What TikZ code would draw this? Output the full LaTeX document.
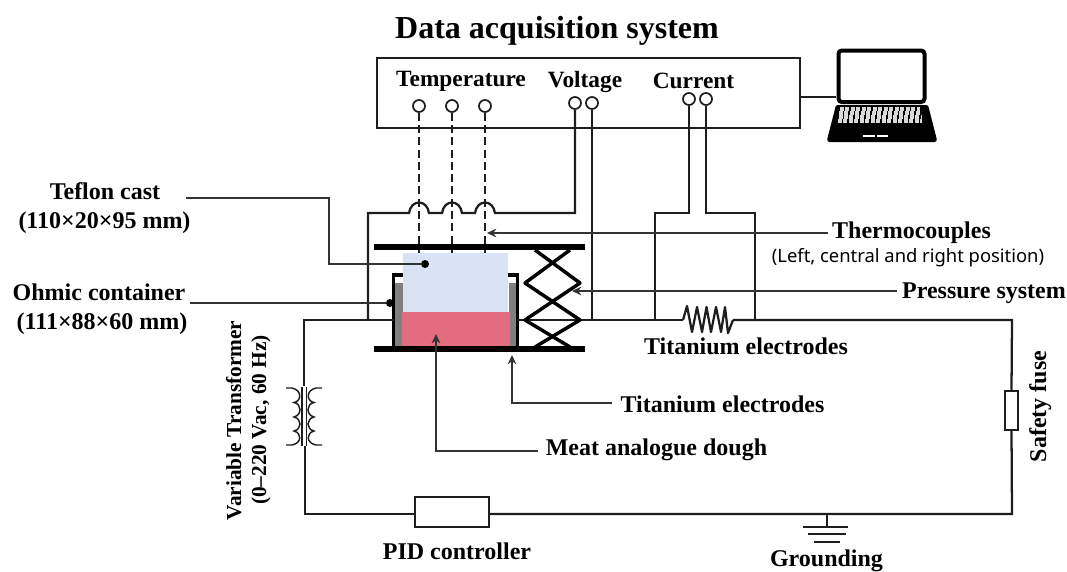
\documentclass[tikz,border=0pt]{standalone}
\usepackage{fontspec}
\setmainfont{Liberation Serif}
\newfontfamily\smallsans{Noto Sans}
\usetikzlibrary{arrows.meta}
\definecolor{ink}{HTML}{1E1E1E}
\definecolor{lead}{HTML}{333333}
\definecolor{blueblock}{HTML}{DAE3F3}
\definecolor{redblock}{HTML}{E46C7F}
\definecolor{wallgrey}{HTML}{7F7F7F}
\tikzset{
 wire/.style={draw=ink,line width=1.7pt},
 leader/.style={draw=lead,line width=1pt},
 leadarrow/.style={leader,-{Stealth[length=7pt,width=6.5pt]}},
 terminal/.style={circle,draw=ink,line width=1.3pt,fill=white,minimum size=9pt,inner sep=0pt},
 dotend/.style={circle,fill=black,minimum size=6pt,inner sep=0pt},
 plate/.style={draw=black,line width=4.8pt},
 lab/.style={font=\bfseries\fontsize{18}{21}\selectfont,text=black,inner sep=0pt,align=center,anchor=base},
 hdr/.style={font=\bfseries\fontsize{17.5}{20}\selectfont,text=black,inner sep=0pt,anchor=base},
 hollowbox/.style={draw=ink,line width=1.7pt,fill=white,inner sep=0pt},
 dash wire/.style={draw=ink,line width=1.4pt,dash pattern=on 6pt off 3.2pt},
}
\begin{document}
\begin{tikzpicture}[x=0.75pt,y=-0.75pt]
\useasboundingbox (0,0) rectangle (1067,571);
% title and DAQ box
\node[lab,font=\bfseries\fontsize{24}{28}\selectfont] (title) at (557,38) {Data acquisition system};
\node[hollowbox,minimum width=423*0.75pt,minimum height=70*0.75pt] (daq) at (588.5,93) {};
\node[hdr] (ttemp) at (461,86) {Temperature};
\node[hdr] (tvolt) at (585,87) {Voltage};
\node[hdr] (tcurr) at (693.5,88) {Current};
% terminals
\node[terminal] (t1) at (419,106) {};
\node[terminal] (t2) at (452,106) {};
\node[terminal] (t3) at (485,106) {};
\node[terminal] (v1) at (575,103) {};
\node[terminal] (v2) at (592,103) {};
\node[terminal] (c1) at (689,99) {};
\node[terminal] (c2) at (706,99) {};
% sample
\fill[wallgrey] (395,283) rectangle (403,347);
\fill[wallgrey] (509,283) rectangle (517,347);
\fill[blueblock] (403,253) rectangle (508,312);
\fill[redblock] (402,312) rectangle (510,347);
\draw[draw=black,line width=2.6pt] (403,275) -- (393.5,275) -- (393.5,349);
\draw[draw=black,line width=2.6pt] (508,275) -- (517.5,275) -- (517.5,349);
\coordinate (contL) at (393.5,320);
\coordinate (contR) at (517.5,320);
% main circuit
\coordinate (cornerTL) at (304,320);
\coordinate (xfTop) at (304,386);
\coordinate (xfBot) at (305,446);
\coordinate (cornerBL) at (305,514);
\coordinate (cornerTR) at (1012,320);
\coordinate (cornerBR) at (1012,514);
\coordinate (gnd) at (827,514);
\coordinate (resL) at (683,320);
\coordinate (resR) at (733,320);
\node[hollowbox,minimum width=74*0.75pt,minimum height=30*0.75pt] (pid) at (452,512) {};
\node[hollowbox,minimum width=13*0.75pt,minimum height=39*0.75pt] (fuse) at (1011.5,410.5) {};
\draw[wire] (contL) -- (cornerTL) -- (xfTop);
\draw[wire] (xfBot) -- (cornerBL) -- (pid.west |- cornerBL);
\draw[wire] (pid.east |- cornerBL) -- (cornerBR) -- (fuse.south);
\draw[wire] (fuse.north) -- (cornerTR) -- (resR);
\draw[wire] (contR) -- (resL);
\draw[wire,line join=round] (resL) -- (687,306) -- (692,332) -- (697,307) -- (702,332) -- (706.5,307) -- (711,332) -- (716,307) -- (721,332) -- (725,307) -- (728,333) -- (resR);
% transformer
\draw[wire,line width=1.1pt] (302,387) -- (302,446) (306.5,387) -- (306.5,446);
\draw[wire,line width=1.1pt] (286,388) -- (292,388) .. controls (302,390) and (302,401) .. (294,402.5) .. controls (302,404) and (302,415) .. (294,417) .. controls (302,419) and (302,429) .. (294,431) .. controls (302,433) and (302,443) .. (292,445) -- (286,445);
\draw[wire,line width=1.1pt] (322,388) -- (316,388) .. controls (306,390) and (306,401) .. (314,402.5) .. controls (306,404) and (306,415) .. (314,417) .. controls (306,419) and (306,429) .. (314,431) .. controls (306,433) and (306,443) .. (316,445) -- (322,445);
% ground
\draw[wire] (gnd) -- (827,527);
\draw[wire] (803,527) -- (848,527) (808,534) -- (846,534) (814,542) -- (840,542);
% DAQ wires
\coordinate (vA) at (575,213);
\coordinate (vB) at (368,213);
\coordinate (vC) at (368,320);
\draw[wire] (v1.south) -- (vA) -- (495,213) .. controls (493,199) and (477,199) .. (475,213) -- (462,213) .. controls (460,199) and (444,199) .. (442,213) -- (429,213) .. controls (427,199) and (411,199) .. (409,213) -- (vB) -- (vC);
\coordinate (vD) at (592,320);
\draw[wire] (v2.south) -- (vD);
\coordinate (cA) at (689,213);
\coordinate (cB) at (655,213);
\coordinate (cC) at (655,320);
\coordinate (cD) at (706,213);
\coordinate (cE) at (755,213);
\coordinate (cF) at (755,320);
\draw[wire] (c1.south) -- (cA) -- (cB) -- (cC);
\draw[wire] (c2.south) -- (cD) -- (cE) -- (cF);
\coordinate (t1e) at (419,253);
\coordinate (t2e) at (452,253);
\coordinate (t3e) at (485,253);
\draw[dash wire] (t1.south) -- (t1e);
\draw[dash wire] (t2.south) -- (t2e);
\draw[dash wire] (t3.south) -- (t3e);
% press
\coordinate (pTL) at (374,247);
\coordinate (pTR) at (585,247);
\coordinate (pBL) at (374,349);
\coordinate (pBR) at (585,349);
\draw[draw=black,line width=2.6pt,line join=round] (535,250) -- (580,283) -- (525,320) -- (570,347);
\draw[draw=black,line width=2.6pt,line join=round] (570,250) -- (525,283) -- (580,320) -- (535,347);
\draw[plate] (pTL) -- (pTR);
\draw[plate] (pBL) -- (pBR);
% laptop
\coordinate (lapIn) at (836,97);
\draw[wire] (daq.east |- lapIn) -- (lapIn);
\draw[draw=black,line width=3pt,rounded corners=2.5pt,fill=white] (838.5,50.5) rectangle (924.5,102);
\fill[black,rounded corners=1pt] (836,105) -- (928,105) -- (937,140) -- (936,142) -- (828,142) -- (827,140) -- cycle;
\foreach \r/\yy/\xa/\xb in {0/109/840/920,1/113/839/921,2/117/838.5/921.5,3/121/838/922}{
  \draw[draw=white!85!black,line width=2.6pt,dash pattern=on 3pt off 1.1pt] (\xa,\yy) -- (\xb,\yy);
}
\draw[draw=white,line width=1.6pt] (863,136) -- (875,136) (877,136) -- (888,136);
% leaders
\node[dotend] (dotT) at (425,264) {};
\node[dotend] (dotO) at (390,303) {};
\node[lab] (teflon) at (105,199) {Teflon cast};
\node[lab] (teflondim) at (104.5,228) {(110×20×95 mm)};
\node[lab] (ohmic) at (99,300) {Ohmic container};
\node[lab] (ohmicdim) at (102,329) {(111×88×60 mm)};
\coordinate (tf1) at (186,198);
\coordinate (tf2) at (329,198);
\coordinate (tf3) at (329,264);
\draw[leader] (tf1) -- (tf2) -- (tf3) -- (dotT);
\coordinate (oh1) at (190,303);
\draw[leader] (oh1) -- (dotO);
\node[lab] (thermo) at (911.5,238) {Thermocouples};
\node[anchor=base,font=\smallsans\fontsize{13.8}{16}\selectfont,inner sep=0pt] (thermosub) at (908,262) {(Left, central and right position)};
\coordinate (thA) at (487,233);
\coordinate (thB) at (828,233);
\draw[leadarrow] (thB) -- (thA);
\node[lab] (press) at (984,298) {Pressure system};
\coordinate (prA) at (572,291);
\coordinate (prB) at (897,291);
\draw[leadarrow] (prB) -- (prA);
\node[lab] (ti1) at (746,354) {Titanium electrodes};
\node[lab] (ti2) at (722.5,412) {Titanium electrodes};
\coordinate (ti2a) at (612,403);
\coordinate (ti2b) at (512,403);
\coordinate (ti2c) at (512,355);
\draw[leadarrow] (ti2a) -- (ti2b) -- (ti2c);
\node[lab] (meat) at (656.5,455) {Meat analogue dough};
\coordinate (m1) at (538,451);
\coordinate (m2) at (436,451);
\coordinate (m3) at (436,334);
\draw[leadarrow] (m1) -- (m2) -- (m3);
\node[lab] (pidt) at (457,559) {PID controller};
\node[lab] (gndt) at (826.5,566) {Grounding};
\node[lab,font=\bfseries\fontsize{16}{19}\selectfont,rotate=90] (vt) at (241,420.5) {Variable Transformer};
\node[lab,font=\bfseries\fontsize{16}{19}\selectfont,rotate=90] (vtr) at (266,420) {(0–220 Vac, 60 Hz)};
\node[lab,rotate=90] (fuset) at (1046,406.5) {Safety fuse};
\end{tikzpicture}
\end{document}
